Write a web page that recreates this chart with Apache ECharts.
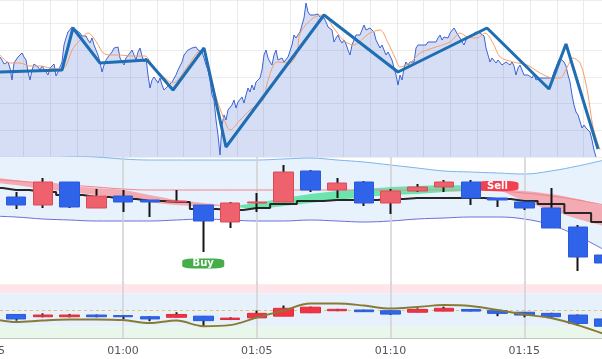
<!DOCTYPE html>
<html><head><meta charset="utf-8">
<script src="https://cdn.jsdelivr.net/npm/echarts@6/dist/echarts.min.js"></script>
<style>html,body{margin:0;padding:0;background:#fff}#c{width:602px;height:359px}</style>
</head><body><div id="c"></div>
<script>
// ---------- top panel: tick prices ----------
const tickStart = 6.75, tickStep = 4.5;
const tickPrices = [143,140,136,136,138,132,120,137,140,143,145,147,143,140,128,120,130,136,137,133,130,134,133,128,125,132,134,136,124,128,130,138,155,162,168,170,173,175,170,172,167,164,162,164,160,157,162,155,150,145,138,128,135,140,143,145,148,152,150,153,142,138,135,142,140,147,150,145,140,148,152,144,138,142,125,112,120,123,120,117,122,115,110,108,114,112,118,120,125,130,132,138,145,146,150,148,152,150,153,150,152,148,142,135,130,120,105,100,80,65,45,75,85,80,90,88,95,100,92,98,100,103,97,105,112,108,115,110,118,120,122,130,145,150,142,138,135,145,150,140,138,142,138,140,143,145,155,165,162,160,168,175,182,197,188,185,187,185,184,186,183,184,182,178,173,172,170,158,162,165,160,157,160,156,150,145,155,160,165,167,165,170,175,170,168,172,170,168,160,158,152,155,150,145,148,150,140,132,125,115,125,120,132,138,135,138,140,138,152,155,153,155,157,155,158,156,158,160,158,162,165,160,163,165,162,167,168,172,174,165,162,160,155,160,163,164,165,167,168,170,167,168,164,152,145,138,142,140,137,140,138,135,136,138,137,135,138,134,125,132,135,130,125,123,125,126,122,126,120,122,122,121,122,120,122,120,122,128,130,138,142,141,138,134,125,118,105,95,88,85,85,72,75,72,73,68,60,50,43];
const maTimes = [7,29,52,74,97,119,142,155,169,187,205,225,239,254,277,299,333,351,383,396,428,450,464,479,495,518,524,547,569,599,608,630,659,675,682,711,734,756,779,801,839,862,880,896,907,929,952,981,1019,1042,1058,1080,1098,1116,1132,1161,1193,1222,1251,1267,1283,1296,1312,1328,1341,1357];
const maValues = [145,137,137,134,134,132,131,134,150,160,167,157,147,145,145,144,144,133,120,117,133,147,150,127,100,73,70,80,90,100,117,138,137,147,167,182,185,173,160,155,167,170,157,142,133,137,147,152,158,167,163,162,167,157,143,138,135,127,122,122,133,142,137,110,73,50];
const zigzagTimes = [6.75,146.25,171,231.75,337.5,396,465.75,515.25,735.75,902.25,1102.5,1242,1280.25,1352.25];
const zigzagValues = [128,130,172,137,140,110,152,53,185,128,172,111,156,51];

// ---------- middle panel: 1-minute candles ----------
const minutes = ['00:55','00:56','00:57','00:58','00:59','01:00','01:01','01:02','01:03','01:04','01:05','01:06','01:07','01:08','01:09','01:10','01:11','01:12','01:13','01:14','01:15','01:16','01:17','01:18'];
const candleOpen  = [1.0992,1.0990,1.0982,1.1005,1.0979,1.0991,1.0987,1.0985,1.0982,1.0965,1.0984,1.0985,1.1016,1.0997,1.1005,1.0984,1.0996,1.1000,1.1005,1.0989,1.0985,1.0979,1.0960,1.0932];
const candleClose = [1.1002,1.0982,1.1005,1.0980,1.0991,1.0985,1.0985,1.0986,1.0966,1.0984,1.0985,1.1015,1.0997,1.1004,1.0984,1.0996,1.1000,1.1005,1.0989,1.0987,1.0979,1.0959,1.0930,1.0924];
const candleLow   = [1.0987,1.0978,1.0979,1.0979,1.0979,1.0975,1.0970,1.0985,1.0935,1.0959,1.0975,1.0985,1.0995,1.0989,1.0981,1.0973,1.0995,1.0995,1.0982,1.0980,1.0977,1.0959,1.0916,1.0921];
const candleHigh  = [1.1005,1.0995,1.1009,1.1005,1.0998,1.0997,1.0987,1.0997,1.0982,1.0985,1.0994,1.1022,1.1017,1.1009,1.1006,1.0998,1.1003,1.1007,1.1007,1.0989,1.0985,1.0999,1.0962,1.0933];
const stopLine    = [1.0999,1.0997,1.0995,1.0992,1.0990,1.0988,1.0986,1.0985,1.0978,1.0977,1.0979,1.0983,1.0986,1.0987,1.0987,1.0988,1.0989,1.0989,1.0989,1.0988,1.0986,1.0983,1.0974,1.0965];
const basisLine   = [1.1008,1.1006,1.1004,1.1002,1.1000,1.0998,1.0997,1.0997,1.0997,1.0997,1.0997,1.0997,1.0997,1.0997,1.0997,1.0997,1.0997,1.0997,1.0997,1.0996,1.0994,1.0991,1.0987,1.0982];
const bandUpper   = [1.1033,1.1032,1.1032,1.1031,1.1030,1.1028,1.1027,1.1027,1.1027,1.1027,1.1027,1.1028,1.1029,1.1027,1.1025,1.1022,1.1019,1.1016,1.1015,1.1014,1.1013,1.1016,1.1021,1.1027];
const bandLower   = [1.0971,1.0970,1.0968,1.0967,1.0966,1.0966,1.0966,1.0967,1.0968,1.0967,1.0966,1.0966,1.0967,1.0966,1.0965,1.0966,1.0968,1.0969,1.0970,1.0970,1.0968,1.0962,1.0951,1.0937];
const cloudSlow   = [1.1010,1.1007,1.1004,1.1001,1.0999,1.0997,1.0992,1.0987,1.0984,1.0981,1.0978,1.0981,1.0984,1.0987,1.0990,1.0992,1.0993,1.0995,1.0996,1.0998,1.0996,1.0993,1.0988,1.0981];
const cloudFast   = [1.1005,1.1002,1.0998,1.0995,1.0992,1.0990,1.0985,1.0982,1.0981,1.0981,1.0984,1.0989,1.0993,1.0996,1.0998,1.1000,1.1001,1.1002,1.1001,1.0998,1.0986,1.0977,1.0968,1.0961];
const alertLevel  = [1.0928];
const signalTimes = ['01:03','01:14'];
const signalPrices = [1.09235,1.1001];
const signalTexts = ['Buy','Sell'];
const gridTimes = ['01:00','01:05','01:10','01:15'];

// ---------- bottom panel: oscillator ----------
const oscOpen  = [36,42,38,38,41,40,38,37,39,33,36,39,45,48.7,50,48.7,46,48,51,48.7,46,44,41,34];
const oscClose = [33,34,41,41,38,38,34,42,31,35.5,44,53,55,51.2,47,42.7,51,53,48,44,41,38,26,21];
const oscLow   = [31,31,37,37,37,34,30,37,21,32,36,39,45,48,46.5,41,46,48,47.5,39,37,36,21.7,19];
const oscHigh  = [37,42,44,43,42,41,39,46,39,37,49,58,56,52,50.5,49,53,56,51,48.7,46,45,42,35];
const oscLine  = [35.6,28.4,31.1,32.9,33.2,32,26.6,31.1,21.2,23,36.5,49,61.6,61.6,58,52.6,55.3,58.9,57.1,49.9,41.9,35.6,23,6.8];
const oscZones = [[80,96],[20,80],[0,20]];
const oscMid = [50];

// ---------- build ----------
const tickSeries = tickPrices.map((v,i)=>[tickStart + i*tickStep, v]);
const maSeries = maTimes.map((t,i)=>[t, maValues[i]]);
const zzSeries = zigzagTimes.map((t,i)=>[t, zigzagValues[i]]);
const wickData = candleLow.map((l,i)=>[l, candleHigh[i], l, candleHigh[i]]);
const bodyData = candleOpen.map((o,i)=>{const c=candleClose[i];return [o,c,Math.min(o,c),Math.max(o,c)];});
const bandDiff = bandUpper.map((u,i)=>u-bandLower[i]);
const isPink = cloudSlow.map((s,i)=>s>=cloudFast[i]);
const isGreen = cloudSlow.map((s,i)=>s<=cloudFast[i]);
const cBase = m => cloudSlow.map((s,i)=>m[i]?Math.min(s,cloudFast[i]):'-');
const cDiff = m => cloudSlow.map((s,i)=>m[i]?Math.abs(s-cloudFast[i]):'-');
const oscWick = oscLow.map((l,i)=>[l, oscHigh[i], l, oscHigh[i]]);
const oscBody = oscOpen.map((o,i)=>{const c=oscClose[i];return [o,c,Math.min(o,c),Math.max(o,c)];});
const vLines = gridTimes.map(t=>({xAxis:t}));
const signalData = signalTimes.map((t,i)=>({value:[t,signalPrices[i]], name:signalTexts[i],
  itemStyle:{color: signalTexts[i]==='Buy' ? '#46ad4b' : '#f2404e', opacity:1}}));
const zoneColors = ['#fde5e9','#e7f1fc','#e9f6ea'];

const noAxis = {axisLine:{show:false},axisTick:{show:false},axisLabel:{show:false}};
const chart = echarts.init(document.getElementById('c'), null, {renderer:'canvas', width:602, height:359});
chart.setOption({
  animation:false,
  backgroundColor:'#ffffff',
  grid:[
    {left:-3, top:0, width:606, height:157, containLabel:false, outerBoundsMode:'none'},
    {left:-24.125, top:157, width:642, height:127, containLabel:false, outerBoundsMode:'none'},
    {left:-24.125, top:282, width:642, height:56, containLabel:false, outerBoundsMode:'none'}
  ],
  xAxis:[
    Object.assign({type:'value', gridIndex:0, min:0, max:1363.5, interval:60,
      splitLine:{show:true, lineStyle:{color:'#ebebeb', width:1}}}, noAxis),
    Object.assign({type:'category', gridIndex:1, data:minutes, boundaryGap:true, splitLine:{show:false}}, noAxis),
    {type:'category', gridIndex:2, data:minutes, boundaryGap:true,
      axisLine:{show:true, lineStyle:{color:'#c4c4c4', width:1}}, axisTick:{show:false},
      axisLabel:{show:true, interval:4, color:'#555', fontSize:11, fontFamily:'DejaVu Sans', margin:8, showMinLabel:true, hideOverlap:false},
      splitLine:{show:false}}
  ],
  yAxis:[
    Object.assign({type:'value', gridIndex:0, min:43, max:200, interval:26.6667,
      splitLine:{show:true, lineStyle:{color:'#ededed', width:1}}}, noAxis),
    Object.assign({type:'value', gridIndex:1, min:1.0903, max:1.1030, splitLine:{show:false}}, noAxis),
    Object.assign({type:'value', gridIndex:2, min:0, max:100, splitLine:{show:false}}, noAxis)
  ],
  series:[
    // top panel
    {type:'line', xAxisIndex:0, yAxisIndex:0, data:tickSeries, symbol:'none', z:2,
      lineStyle:{color:'#3d62d3', width:1}, areaStyle:{color:'rgba(63,99,208,0.30)', origin:'start'}},
    {type:'line', xAxisIndex:0, yAxisIndex:0, data:maSeries, symbol:'none', smooth:0.3, z:3,
      lineStyle:{color:'#f2a06a', width:1}},
    {type:'line', xAxisIndex:0, yAxisIndex:0, data:zzSeries, symbol:'none', z:4,
      lineStyle:{color:'#1f6db3', width:3}},
    // middle panel: band
    {type:'line', xAxisIndex:1, yAxisIndex:1, data:bandLower, stack:'band', symbol:'none', smooth:0.4, z:1,
      lineStyle:{color:'#6c6fd6', width:1},
      markLine:{silent:true, symbol:['none','none'], z:2, label:{show:false}, animation:false,
        data:[...vLines.map(v=>Object.assign({lineStyle:{color:'#d2d2d2', width:1.5, type:'solid'}}, v)),
              ...alertLevel.map(a=>({yAxis:a, lineStyle:{color:'#f3a3a3', width:1, type:[3,3]}}))]}},
    {type:'line', xAxisIndex:1, yAxisIndex:1, data:bandDiff, stack:'band', symbol:'none', smooth:0.4, z:1,
      lineStyle:{color:'#7ab4ee', width:1}, areaStyle:{color:'#e8f2fd', opacity:1}},
    // cloud
    {type:'line', xAxisIndex:1, yAxisIndex:1, data:cBase(isPink), stack:'pink', symbol:'none', smooth:0.3, z:3,
      lineStyle:{width:0, opacity:0}},
    {type:'line', xAxisIndex:1, yAxisIndex:1, data:cDiff(isPink), stack:'pink', symbol:'none', smooth:0.3, z:3,
      lineStyle:{width:0, opacity:0}, areaStyle:{color:'#f4a2aa', opacity:0.9}},
    {type:'line', xAxisIndex:1, yAxisIndex:1, data:cBase(isGreen), stack:'green', symbol:'none', smooth:0.3, z:3,
      lineStyle:{width:0, opacity:0}},
    {type:'line', xAxisIndex:1, yAxisIndex:1, data:cDiff(isGreen), stack:'green', symbol:'none', smooth:0.3, z:3,
      lineStyle:{width:0, opacity:0}, areaStyle:{color:'#5ee2a4', opacity:0.9}},
    {type:'line', xAxisIndex:1, yAxisIndex:1, data:basisLine, symbol:'none', smooth:0.4, z:3,
      lineStyle:{color:'#f0858d', width:1}},
    {type:'line', xAxisIndex:1, yAxisIndex:1, data:stopLine, symbol:'none', step:'middle', z:3,
      lineStyle:{color:'#262626', width:2}},
    {type:'scatter', xAxisIndex:1, yAxisIndex:1, data:signalData, symbol:'roundRect', symbolSize:[42,10], z:4,
      itemStyle:{opacity:1},
      label:{show:true, position:'inside', formatter:p=>p.name, color:'#fff', fontSize:10, fontWeight:'bold', fontFamily:'DejaVu Sans'}},
    {type:'candlestick', xAxisIndex:1, yAxisIndex:1, data:wickData, barWidth:2.5, z:5,
      itemStyle:{color:'#151515', color0:'#151515', borderColor:'#151515', borderColor0:'#151515', borderWidth:0}},
    {type:'candlestick', xAxisIndex:1, yAxisIndex:1, data:bodyData, barWidth:20, z:6,
      itemStyle:{color:'#ee626d', color0:'#2f63ea', borderColor:'#dc4a57', borderColor0:'#2a59da', borderWidth:1}},
    // bottom panel
    {type:'line', xAxisIndex:2, yAxisIndex:2, data:oscLine.map(()=> '-'), symbol:'none', z:1,
      markArea:{silent:true, z:1, data:oscZones.map((zn,i)=>[{yAxis:zn[0], itemStyle:{color:zoneColors[i]}},{yAxis:zn[1]}])},
      markLine:{silent:true, symbol:['none','none'], z:2, label:{show:false}, animation:false,
        data:[...vLines.map(v=>Object.assign({lineStyle:{color:'#d2d2d2', width:1.5, type:'solid'}}, v)),
              ...oscMid.map(m=>({yAxis:m, lineStyle:{color:'#e6c35c', width:1, type:[3,3]}}))]}},
    {type:'candlestick', xAxisIndex:2, yAxisIndex:2, data:oscWick, barWidth:2.5, z:5,
      itemStyle:{color:'#151515', color0:'#151515', borderColor:'#151515', borderColor0:'#151515', borderWidth:0}},
    {type:'candlestick', xAxisIndex:2, yAxisIndex:2, data:oscBody, barWidth:20, z:6,
      itemStyle:{color:'#f03446', color0:'#2f66ea', borderColor:'#e02a3c', borderColor0:'#2a5ad8', borderWidth:1}},
    {type:'line', xAxisIndex:2, yAxisIndex:2, data:oscLine, symbol:'none', smooth:0.35, z:7,
      lineStyle:{color:'#8a7b34', width:2}}
  ]
});
</script></body></html>
